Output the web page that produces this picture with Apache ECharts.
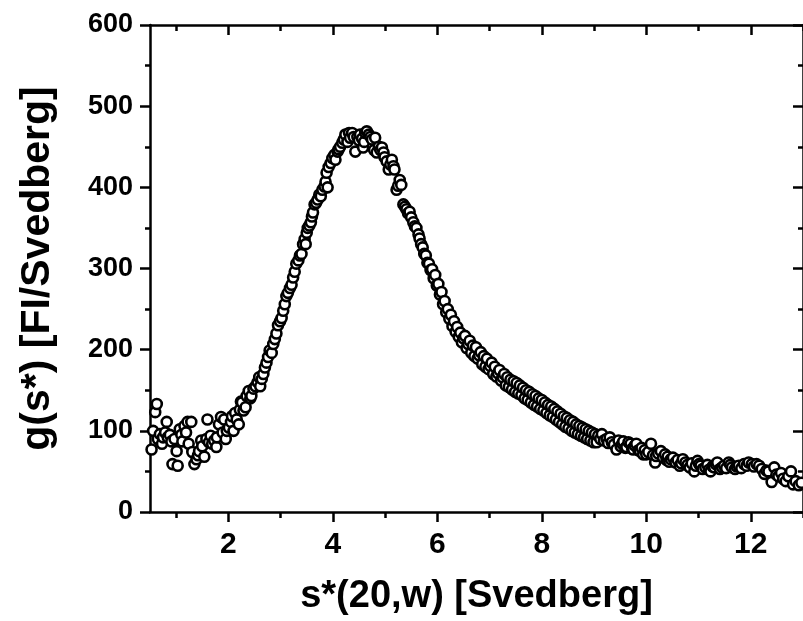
<!DOCTYPE html>
<html>
<head>
<meta charset="utf-8">
<script src="https://cdn.jsdelivr.net/npm/echarts@6/dist/echarts.min.js"></script>
<style>
  html, body { margin: 0; padding: 0; background: #fff; }
  #chart { width: 803px; height: 621px; }
</style>
</head>
<body>
<div id="chart"></div>
<script>
// Sedimentation coefficient distribution, [s*(20,w), g(s*)] pairs per region of the curve
const lowShoulder = [
  [0.53,77],[0.56,100],[0.60,123],[0.63,133],[0.65,90],[0.69,96],[0.73,84],[0.75,92],[0.79,98],[0.82,111],
  [0.84,92],[0.88,95],[0.91,87],[0.93,59],[0.97,90],[1.01,75],[1.03,57],[1.07,102],[1.10,95],[1.12,87],
  [1.16,106],[1.19,98],[1.22,111],[1.24,84],[1.29,111],[1.31,74],[1.35,59],[1.39,65],[1.42,70],[1.44,75],
  [1.48,88],[1.50,81],[1.54,68],[1.58,90],[1.60,114],[1.63,86],[1.66,94],[1.69,84],[1.73,88],[1.77,80],
  [1.78,92],[1.82,108],[1.86,117],[1.89,98],[1.92,114],[1.95,90],[1.97,100],[2.01,104],[2.05,111],[2.07,118],
  [2.10,100],[2.13,122],[2.16,114],[2.20,108],[2.22,126],[2.24,136],[2.26,135],[2.29,125],[2.33,129],[2.35,143],
  [2.39,149],[2.42,140],[2.44,143],[2.48,152],[2.52,155],[2.56,160],[2.59,166],[2.61,155],[2.64,164]
];
const risingEdge = [
  [2.67,170],[2.70,178],[2.73,184],[2.76,191],[2.79,199],[2.83,196],[2.86,207],[2.89,213],[2.92,220],[2.95,230],
  [2.99,235],[3.02,239],[3.05,248],[3.08,256],[3.11,266],[3.14,270],[3.18,276],[3.21,280],[3.24,289],[3.27,296],
  [3.30,306],[3.34,310],[3.37,316],[3.40,318],[3.43,330],[3.46,336],[3.48,330],[3.50,344],[3.52,350],[3.55,353],
  [3.58,357],[3.60,364],[3.62,369],[3.65,379],[3.68,381],[3.71,385],[3.74,391],[3.77,389],[3.80,397],[3.84,401],
  [3.86,407],[3.88,418],[3.90,400],[3.92,425],[3.96,430],[3.99,436]
];
const peakTop = [
  [4.03,440],[4.05,434],[4.09,444],[4.11,447],[4.14,450],[4.18,455],[4.21,459],[4.24,465],[4.28,456],[4.31,467],
  [4.33,461],[4.37,467],[4.40,462],[4.43,444],[4.47,462],[4.50,458],[4.52,465],[4.56,460],[4.58,449],[4.60,456],
  [4.62,467],[4.65,469],[4.69,465],[4.72,462],[4.75,459],[4.79,446],[4.81,461],[4.84,443],[4.88,450],[4.91,446],
  [4.94,449],[4.97,443],[4.99,437],[5.03,432],[5.07,422],[5.10,428],[5.13,434],[5.16,426],[5.18,422],[5.22,397],
  [5.25,402],[5.28,409],[5.31,403],[5.35,379],[5.38,376],[5.41,373],[5.44,368],[5.47,370],[5.50,363],[5.54,357],
  [5.57,352],[5.60,350],[5.64,342],[5.66,337],[5.69,330]
];
const fallingEdge = [
  [5.72,326],[5.75,318],[5.78,316],[5.81,307],[5.84,306],[5.87,298],[5.90,299],[5.93,288],[5.96,292],[5.99,279],
  [6.02,281],[6.05,268],[6.08,271],[6.11,256],[6.14,260],[6.17,246],[6.20,250],[6.23,238],[6.26,243],[6.29,229],
  [6.32,235],[6.35,222],[6.38,228],[6.41,216],[6.44,221],[6.47,209],[6.50,214],[6.53,217],[6.56,202],[6.59,207],
  [6.62,211],[6.65,196],[6.68,205],[6.71,192],[6.74,203],[6.77,189],[6.80,193],[6.83,197],[6.86,182],[6.89,192],
  [6.92,179],[6.95,189],[6.98,176],[7.01,180],[7.04,184],[7.07,170],[7.10,179],[7.13,167],[7.16,171],[7.19,175],
  [7.22,162],[7.25,166],[7.28,170],[7.31,156],[7.34,166],[7.37,154],[7.40,163],[7.43,151],[7.46,161],[7.49,148],
  [7.52,159],[7.55,146],[7.58,156],[7.61,144],[7.64,153],[7.67,140],[7.70,150],[7.73,138],[7.76,148],[7.79,135],
  [7.82,145],[7.85,132],[7.88,143],[7.91,130],[7.94,140],[7.97,127],[8.00,138],[8.03,125],[8.06,135],[8.09,122],
  [8.12,132],[8.15,119],[8.18,130],[8.21,117],[8.24,127],[8.27,114],[8.30,124],[8.33,111],[8.36,121],[8.39,108],
  [8.42,118],[8.45,105],[8.48,116],[8.51,103],[8.54,113],[8.57,100],[8.60,111],[8.63,98],[8.66,108],[8.69,96],
  [8.72,106],[8.75,94],[8.78,104],[8.81,92],[8.84,102],[8.87,90],[8.90,100],[8.93,88],[8.96,98],[8.99,86],[9.02,96]
];
const tail = [
  [9.05,86],[9.08,94],[9.12,90],[9.15,96],[9.19,88],[9.24,90],[9.27,85],[9.30,92],[9.34,86],[9.38,83],
  [9.43,77],[9.47,88],[9.51,81],[9.54,84],[9.56,87],[9.60,79],[9.62,80],[9.66,86],[9.70,84],[9.73,78],
  [9.75,77],[9.78,82],[9.81,84],[9.85,76],[9.88,75],[9.91,79],[9.94,71],[9.97,76],[10.00,71],[10.04,74],
  [10.09,84],[10.13,70],[10.17,61],[10.19,69],[10.23,72],[10.28,75],[10.32,67],[10.36,71],[10.39,64],[10.41,68],
  [10.44,62],[10.47,65],[10.51,67],[10.56,61],[10.60,64],[10.64,57],[10.67,60],[10.70,65],[10.75,61],[10.79,58],
  [10.83,55],[10.87,60],[10.92,50],[10.95,57],[10.98,63],[11.01,59],[11.04,57],[11.08,53],[11.13,55],[11.17,58],
  [11.20,52],[11.23,50],[11.27,56],[11.30,55],[11.33,59],[11.36,61],[11.41,53],[11.45,55],[11.49,57],[11.53,54],
  [11.58,61],[11.61,58],[11.64,55],[11.70,53],[11.73,56],[11.77,57],[11.82,54],[11.87,59],[11.92,57],[11.96,61],
  [12.02,59],[12.06,56],[12.11,59],[12.16,57],[12.21,53],[12.26,47],[12.30,51],[12.34,50],[12.40,37],[12.45,55],
  [12.49,46],[12.53,44],[12.58,48],[12.62,41],[12.67,38],[12.72,44],[12.77,50],[12.81,34],[12.86,38],[12.92,33],[12.97,36]
];

// Axis tick positions and labels
const xMajorTicks = [2, 4, 6, 8, 10, 12];
const xMinorTicks = [1, 3, 5, 7, 9, 11, 13];
const xRange = [0.5, 13];
const yRange = [0, 600];
const yStep = 100;

const FONT = '"Liberation Sans", Arial, sans-serif';
const INK = '#000';
const LINE_W = 2.5;

const points = [].concat(lowShoulder, risingEdge, peakTop, fallingEdge, tail);

function xAxisDef(position, ticks, len, inside, main) {
  return {
    type: 'value', gridIndex: 0, position: position,
    min: xRange[0], max: xRange[1],
    axisLine: { show: main, onZero: false, lineStyle: { color: INK, width: LINE_W } },
    axisTick: { show: true, inside: inside, length: len, customValues: ticks,
                lineStyle: { color: INK, width: LINE_W } },
    axisLabel: (main && position === 'bottom')
      ? { show: true, customValues: xMajorTicks, margin: 18, color: INK,
          fontFamily: FONT, fontWeight: 'bold', fontSize: 30 }
      : { show: false, customValues: ticks },
    splitLine: { show: false },
    name: (main && position === 'bottom') ? 's*(20,w) [Svedberg]' : '',
    nameLocation: 'middle', nameGap: 66,
    nameTextStyle: { color: INK, fontFamily: FONT, fontWeight: 'bold', fontSize: 38 }
  };
}

function yAxisDef(position, inside, main) {
  return {
    type: 'value', gridIndex: 0, position: position,
    min: yRange[0], max: yRange[1], interval: yStep,
    axisLine: { show: true, onZero: false, lineStyle: { color: INK, width: LINE_W } },
    axisTick: { show: true, inside: inside, length: 10, lineStyle: { color: INK, width: LINE_W } },
    minorTick: { show: true, splitNumber: 2, length: 5, lineStyle: { color: INK, width: LINE_W } },
    axisLabel: main
      ? { show: true, margin: 17, color: INK, fontFamily: FONT, fontWeight: 'bold', fontSize: 27 }
      : { show: false },
    splitLine: { show: false },
    minorSplitLine: { show: false },
    name: main ? 'g(s*) [FI/Svedberg]' : '',
    nameLocation: 'middle', nameGap: 92,
    nameTextStyle: { color: INK, fontFamily: FONT, fontWeight: 'bold', fontSize: 41 }
  };
}

const chart = echarts.init(document.getElementById('chart'), null, { renderer: 'canvas' });
chart.setOption({
  backgroundColor: '#fff',
  animation: false,
  grid: { left: 150, top: 25, width: 662, height: 488, containLabel: false },
  xAxis: [
    xAxisDef('bottom', xMajorTicks, 10, false, true),
    xAxisDef('bottom', xMinorTicks, 6, false, false),
    xAxisDef('top', xMajorTicks, 10, true, true),
    xAxisDef('top', xMinorTicks, 6, true, false)
  ],
  yAxis: [
    yAxisDef('left', false, true),
    yAxisDef('right', true, false)
  ],
  series: [{
    type: 'scatter',
    xAxisIndex: 0, yAxisIndex: 0,
    data: points,
    symbol: 'circle',
    symbolSize: 10,
    clip: false,
    itemStyle: { color: '#fff', borderColor: INK, borderWidth: 2.6, opacity: 1 },
    z: 3
  }]
});
</script>
</body>
</html>
